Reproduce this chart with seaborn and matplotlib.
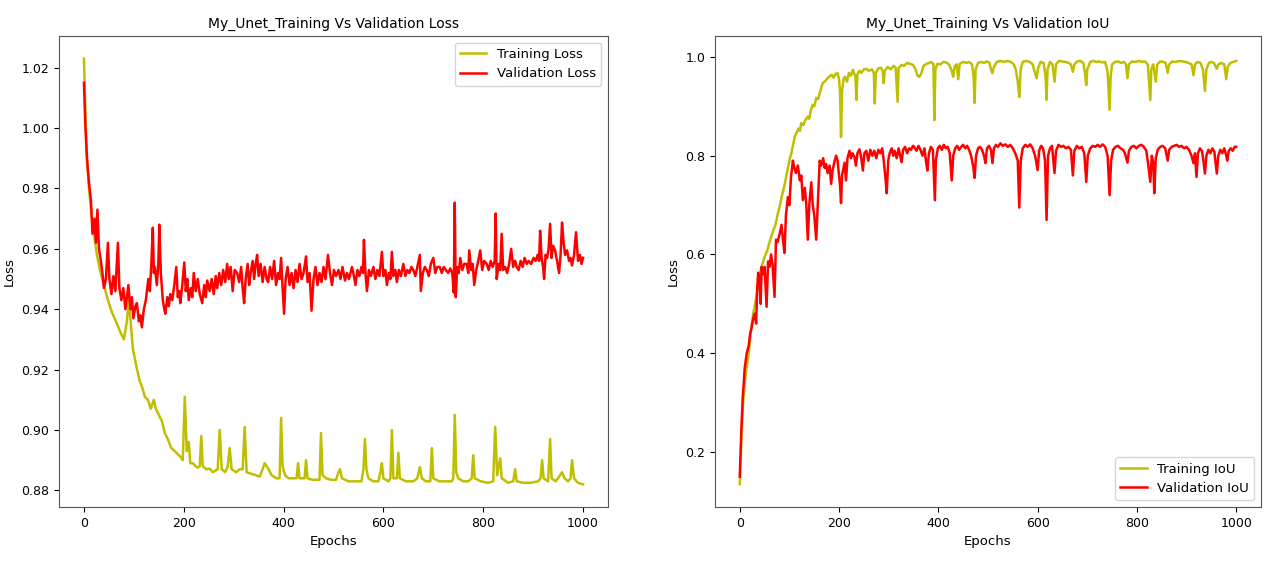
import seaborn as sns
import matplotlib.pyplot as plt
import pandas as pd

# ------------------------------------------------------------
# values (epoch, value)
# ------------------------------------------------------------
train_loss_epochs = [
    0, 3, 6, 10, 15, 20, 26, 32, 40, 48, 56, 64, 74, 80, 86, 90, 94, 98, 105, 112,
    117, 122, 128, 134, 140, 144, 150, 156, 162, 168, 175, 182, 188, 194, 198, 202, 206, 210, 213, 218,
    224, 228, 232, 235, 238, 245, 252, 258, 268, 272, 276, 283, 288, 292, 296, 305, 312, 318, 322, 326,
    335, 345, 352, 358, 362, 366, 370, 376, 386, 392, 395, 398, 403, 410, 420, 426, 429, 432, 442, 445,
    448, 458, 466, 472, 475, 478, 485, 495, 505, 510, 513, 517, 530, 545, 556, 560, 563, 566, 570, 580,
    590, 594, 597, 600, 610, 614, 617, 620, 627, 630, 633, 645, 660, 668, 673, 677, 685, 694, 697, 700,
    712, 725, 737, 740, 743, 746, 750, 760, 770, 777, 780, 783, 795, 810, 820, 824, 828, 834, 837, 850,
    860, 864, 867, 880, 895, 910, 915, 918, 921, 930, 934, 937, 945, 952, 958, 963, 970, 975, 978, 982,
    990, 1000]
train_loss = [
    1.023, 1.005, 0.990, 0.980, 0.972, 0.965, 0.958, 0.953, 0.948, 0.943, 0.939, 0.936, 0.932, 0.930, 0.936, 0.943, 0.935, 0.927, 0.921, 0.916,
    0.914, 0.911, 0.910, 0.907, 0.910, 0.907, 0.905, 0.903, 0.899, 0.897, 0.894, 0.893, 0.892, 0.891, 0.890, 0.911, 0.893, 0.896, 0.889, 0.889,
    0.888, 0.8875, 0.888, 0.898, 0.888, 0.887, 0.8872, 0.886, 0.887, 0.900, 0.887, 0.886, 0.888, 0.894, 0.887, 0.886, 0.887, 0.887, 0.901, 0.886,
    0.8855, 0.885, 0.8845, 0.887, 0.889, 0.888, 0.887, 0.885, 0.884, 0.884, 0.904, 0.888, 0.885, 0.884, 0.884, 0.884, 0.889, 0.884, 0.884, 0.890,
    0.884, 0.8835, 0.8835, 0.8835, 0.899, 0.885, 0.884, 0.8835, 0.8835, 0.886, 0.887, 0.884, 0.883, 0.883, 0.883, 0.887, 0.897, 0.887, 0.884, 0.883,
    0.883, 0.886, 0.889, 0.884, 0.883, 0.884, 0.900, 0.884, 0.884, 0.8925, 0.884, 0.883, 0.883, 0.884, 0.8877, 0.884, 0.883, 0.883, 0.894, 0.884,
    0.883, 0.883, 0.883, 0.884, 0.905, 0.886, 0.884, 0.883, 0.883, 0.884, 0.8916, 0.884, 0.883, 0.8825, 0.883, 0.901, 0.885, 0.8906, 0.884, 0.8825,
    0.883, 0.887, 0.883, 0.8825, 0.8825, 0.883, 0.884, 0.890, 0.884, 0.883, 0.897, 0.884, 0.883, 0.8845, 0.886, 0.884, 0.883, 0.884, 0.890, 0.884,
    0.8825, 0.882]

val_loss_epochs = [
    0, 3, 6, 10, 14, 17, 21, 24, 27, 30, 33, 37, 40, 44, 48, 51, 55, 59, 63, 68,
    71, 75, 79, 83, 86, 89, 93, 96, 99, 103, 106, 110, 113, 116, 120, 124, 129, 132, 135, 138,
    140, 142, 146, 149, 151, 154, 158, 161, 163, 167, 170, 173, 177, 181, 185, 188, 191, 193, 197, 201,
    204, 207, 210, 214, 217, 220, 224, 228, 232, 237, 241, 244, 247, 252, 256, 260, 264, 267, 271, 275,
    279, 283, 287, 290, 294, 298, 302, 307, 311, 315, 318, 321, 324, 328, 331, 334, 338, 341, 344, 347,
    350, 354, 358, 362, 366, 369, 373, 377, 381, 385, 389, 392, 395, 398, 401, 404, 408, 412, 416, 420,
    424, 428, 432, 436, 440, 445, 448, 452, 456, 460, 464, 468, 472, 476, 480, 484, 489, 493, 497, 501,
    505, 510, 514, 518, 523, 527, 531, 537, 541, 544, 548, 552, 556, 559, 561, 564, 567, 571, 575, 580,
    584, 588, 592, 597, 600, 604, 607, 611, 614, 617, 620, 624, 627, 631, 635, 640, 644, 648, 652, 656,
    660, 664, 668, 673, 675, 679, 683, 687, 691, 695, 700, 704, 708, 713, 717, 721, 725, 730, 734, 738,
    741, 743, 745, 748, 751, 754, 758, 762, 767, 770, 772, 776, 779, 782, 786, 790, 794, 798, 802, 807,
    811, 815, 819, 823, 825, 827, 831, 834, 837, 840, 844, 848, 852, 856, 860, 864, 867, 871, 875, 879,
    883, 887, 891, 896, 901, 905, 909, 912, 914, 917, 920, 922, 925, 928, 931, 934, 937, 940, 944, 948,
    952, 955, 958, 961, 964, 968, 972, 975, 978, 982, 986, 990, 994, 997, 1000]
val_loss = [
    1.015, 1.000, 0.990, 0.982, 0.976, 0.965, 0.970, 0.962, 0.973, 0.960, 0.957, 0.952, 0.947, 0.950, 0.962, 0.950, 0.945, 0.951, 0.946, 0.962,
    0.947, 0.943, 0.947, 0.940, 0.944, 0.948, 0.940, 0.944, 0.937, 0.941, 0.942, 0.936, 0.938, 0.934, 0.940, 0.943, 0.950, 0.946, 0.955, 0.967,
    0.952, 0.954, 0.948, 0.955, 0.968, 0.952, 0.943, 0.940, 0.9385, 0.944, 0.941, 0.945, 0.943, 0.948, 0.954, 0.944, 0.946, 0.942, 0.948, 0.9555,
    0.946, 0.950, 0.943, 0.947, 0.944, 0.952, 0.946, 0.950, 0.945, 0.942, 0.948, 0.944, 0.9495, 0.946, 0.950, 0.945, 0.951, 0.947, 0.952, 0.948,
    0.953, 0.949, 0.955, 0.950, 0.954, 0.946, 0.953, 0.952, 0.949, 0.954, 0.947, 0.942, 0.950, 0.955, 0.948, 0.952, 0.956, 0.950, 0.955, 0.958,
    0.951, 0.955, 0.949, 0.954, 0.950, 0.949, 0.954, 0.950, 0.956, 0.948, 0.952, 0.950, 0.957, 0.947, 0.9385, 0.950, 0.954, 0.948, 0.952, 0.947,
    0.953, 0.949, 0.955, 0.950, 0.952, 0.9575, 0.949, 0.952, 0.9395, 0.950, 0.954, 0.948, 0.952, 0.949, 0.954, 0.950, 0.958, 0.952, 0.948, 0.953,
    0.951, 0.953, 0.950, 0.954, 0.9495, 0.952, 0.950, 0.954, 0.951, 0.948, 0.953, 0.951, 0.954, 0.952, 0.963, 0.952, 0.946, 0.953, 0.951, 0.954,
    0.950, 0.953, 0.951, 0.959, 0.951, 0.953, 0.948, 0.952, 0.950, 0.959, 0.951, 0.953, 0.949, 0.953, 0.951, 0.955, 0.951, 0.953, 0.952, 0.954,
    0.953, 0.951, 0.954, 0.958, 0.946, 0.952, 0.954, 0.953, 0.951, 0.955, 0.957, 0.952, 0.954, 0.954, 0.952, 0.954, 0.953, 0.952, 0.9535, 0.952,
    0.9455, 0.9753, 0.944, 0.954, 0.952, 0.957, 0.953, 0.955, 0.955, 0.952, 0.9595, 0.953, 0.955, 0.948, 0.953, 0.956, 0.9595, 0.953, 0.956, 0.955,
    0.953, 0.956, 0.954, 0.956, 0.9717, 0.950, 0.955, 0.953, 0.965, 0.953, 0.954, 0.952, 0.955, 0.960, 0.954, 0.956, 0.954, 0.953, 0.956, 0.954,
    0.957, 0.955, 0.956, 0.955, 0.957, 0.956, 0.958, 0.956, 0.966, 0.957, 0.954, 0.950, 0.958, 0.957, 0.960, 0.9683, 0.957, 0.961, 0.9595, 0.956,
    0.952, 0.958, 0.9687, 0.962, 0.958, 0.9595, 0.956, 0.957, 0.9545, 0.958, 0.9655, 0.956, 0.958, 0.955, 0.957]

train_iou_epochs = [
    0, 3, 6, 10, 14, 18, 22, 27, 31, 36, 40, 44, 50, 56, 60, 64, 68, 72, 76, 81,
    85, 89, 93, 97, 101, 104, 108, 111, 114, 118, 121, 124, 128, 132, 137, 140, 143, 147, 150, 154,
    158, 162, 167, 171, 175, 180, 185, 189, 193, 197, 200, 202, 204, 206, 209, 212, 216, 220, 224, 228,
    231, 233, 235, 237, 241, 245, 250, 255, 260, 266, 270, 272, 274, 279, 285, 288, 290, 292, 298, 304,
    310, 314, 318, 320, 326, 331, 337, 343, 349, 354, 358, 362, 366, 370, 376, 382, 386, 390, 392, 394,
    398, 404, 410, 416, 422, 427, 430, 433, 437, 440, 443, 450, 457, 462, 468, 471, 473, 475, 480, 486,
    492, 498, 503, 506, 509, 512, 518, 525, 532, 540, 546, 552, 556, 560, 563, 566, 570, 577, 584, 590,
    594, 598, 601, 606, 612, 616, 618, 620, 625, 630, 634, 637, 643, 650, 656, 662, 667, 671, 674, 680,
    686, 692, 695, 698, 700, 706, 712, 718, 724, 730, 736, 741, 743, 745, 747, 750, 756, 762, 768, 774,
    778, 781, 784, 790, 797, 804, 810, 816, 822, 825, 827, 829, 833, 838, 841, 847, 853, 858, 862, 865,
    871, 878, 885, 892, 898, 904, 910, 914, 917, 922, 928, 933, 937, 940, 945, 950, 955, 961, 964, 970,
    976, 980, 983, 988, 994, 1000]
train_iou = [
    0.135, 0.22, 0.29, 0.34, 0.372, 0.40, 0.44, 0.48, 0.50, 0.53, 0.56, 0.575, 0.595, 0.61, 0.625, 0.638, 0.65, 0.66, 0.68, 0.700,
    0.72, 0.735, 0.755, 0.775, 0.795, 0.805, 0.825, 0.840, 0.846, 0.855, 0.850, 0.866, 0.862, 0.872, 0.879, 0.875, 0.892, 0.903, 0.900, 0.917,
    0.915, 0.930, 0.947, 0.950, 0.955, 0.960, 0.964, 0.958, 0.966, 0.967, 0.955, 0.930, 0.838, 0.930, 0.955, 0.960, 0.950, 0.968, 0.962, 0.974,
    0.965, 0.960, 0.913, 0.965, 0.972, 0.968, 0.975, 0.976, 0.972, 0.975, 0.968, 0.906, 0.968, 0.977, 0.978, 0.970, 0.947, 0.972, 0.980, 0.975,
    0.982, 0.978, 0.909, 0.978, 0.984, 0.982, 0.988, 0.986, 0.984, 0.975, 0.962, 0.960, 0.968, 0.982, 0.986, 0.988, 0.990, 0.985, 0.872, 0.975,
    0.986, 0.985, 0.990, 0.989, 0.984, 0.972, 0.960, 0.982, 0.985, 0.955, 0.986, 0.990, 0.988, 0.990, 0.985, 0.960, 0.907, 0.975, 0.988, 0.990,
    0.988, 0.991, 0.988, 0.975, 0.967, 0.980, 0.990, 0.992, 0.990, 0.992, 0.990, 0.985, 0.975, 0.950, 0.919, 0.975, 0.990, 0.992, 0.990, 0.985,
    0.970, 0.957, 0.978, 0.990, 0.988, 0.960, 0.913, 0.975, 0.990, 0.985, 0.950, 0.985, 0.992, 0.991, 0.990, 0.988, 0.985, 0.970, 0.985, 0.991,
    0.992, 0.988, 0.970, 0.943, 0.975, 0.990, 0.992, 0.990, 0.991, 0.989, 0.990, 0.970, 0.930, 0.893, 0.960, 0.985, 0.990, 0.991, 0.988, 0.990,
    0.985, 0.957, 0.985, 0.991, 0.990, 0.992, 0.990, 0.991, 0.985, 0.940, 0.913, 0.975, 0.985, 0.950, 0.985, 0.991, 0.990, 0.988, 0.968, 0.985,
    0.991, 0.990, 0.992, 0.991, 0.990, 0.988, 0.985, 0.963, 0.985, 0.990, 0.988, 0.975, 0.931, 0.975, 0.988, 0.990, 0.988, 0.976, 0.985, 0.988,
    0.985, 0.955, 0.980, 0.988, 0.990, 0.992]

val_iou_epochs = [
    0, 3, 6, 10, 14, 18, 21, 24, 27, 30, 33, 35, 37, 40, 42, 44, 47, 50, 54, 57,
    60, 63, 66, 70, 73, 76, 80, 84, 87, 90, 93, 97, 100, 103, 107, 110, 113, 117, 121, 124,
    127, 131, 134, 137, 140, 144, 147, 150, 154, 157, 161, 164, 168, 171, 174, 177, 181, 184, 187, 190,
    194, 197, 200, 202, 204, 206, 209, 211, 214, 217, 221, 224, 227, 231, 234, 237, 241, 244, 248, 251,
    255, 259, 263, 267, 271, 275, 279, 283, 287, 290, 293, 296, 299, 302, 306, 309, 312, 316, 320, 323,
    326, 329, 333, 337, 341, 345, 349, 352, 356, 360, 364, 368, 372, 375, 378, 381, 385, 389, 391, 393,
    395, 399, 403, 407, 411, 415, 419, 423, 427, 430, 434, 438, 442, 446, 450, 454, 458, 462, 466, 470,
    473, 476, 480, 484, 488, 492, 495, 498, 502, 506, 509, 512, 516, 520, 525, 530, 535, 540, 545, 550,
    555, 560, 563, 566, 570, 575, 580, 585, 590, 595, 600, 603, 607, 611, 615, 618, 621, 625, 629, 634,
    637, 642, 647, 652, 657, 662, 667, 671, 674, 679, 684, 689, 694, 698, 701, 706, 711, 716, 721, 726,
    731, 736, 741, 745, 748, 752, 757, 762, 767, 772, 776, 781, 784, 789, 794, 799, 804, 809, 814, 819,
    823, 827, 830, 833, 835, 838, 842, 847, 852, 857, 862, 865, 870, 875, 880, 885, 890, 895, 900, 905,
    910, 914, 917, 920, 923, 927, 931, 934, 937, 940, 944, 948, 952, 956, 961, 964, 968, 972, 976, 980,
    982, 985, 989, 993, 997, 1000]
val_iou = [
    0.150, 0.24, 0.31, 0.37, 0.40, 0.415, 0.440, 0.453, 0.47, 0.48, 0.46, 0.53, 0.563, 0.545, 0.50, 0.575, 0.56, 0.575, 0.494, 0.586,
    0.575, 0.60, 0.58, 0.514, 0.63, 0.625, 0.64, 0.66, 0.63, 0.603, 0.68, 0.716, 0.70, 0.755, 0.79, 0.775, 0.765, 0.78, 0.75, 0.76,
    0.71, 0.735, 0.70, 0.63, 0.70, 0.746, 0.70, 0.68, 0.63, 0.70, 0.79, 0.78, 0.795, 0.775, 0.783, 0.765, 0.78, 0.743, 0.770, 0.785,
    0.80, 0.79, 0.76, 0.740, 0.704, 0.760, 0.775, 0.786, 0.750, 0.795, 0.81, 0.795, 0.805, 0.797, 0.780, 0.805, 0.813, 0.800, 0.77, 0.805,
    0.810, 0.790, 0.812, 0.800, 0.81, 0.795, 0.812, 0.805, 0.815, 0.790, 0.760, 0.724, 0.790, 0.805, 0.815, 0.800, 0.81, 0.795, 0.815, 0.800,
    0.787, 0.812, 0.818, 0.805, 0.815, 0.812, 0.820, 0.817, 0.810, 0.820, 0.812, 0.800, 0.815, 0.790, 0.77, 0.805, 0.818, 0.812, 0.760, 0.710,
    0.790, 0.815, 0.820, 0.812, 0.822, 0.815, 0.818, 0.805, 0.750, 0.800, 0.815, 0.820, 0.812, 0.818, 0.822, 0.815, 0.820, 0.812, 0.800, 0.780,
    0.755, 0.800, 0.815, 0.818, 0.812, 0.800, 0.785, 0.815, 0.820, 0.812, 0.785, 0.815, 0.822, 0.818, 0.825, 0.820, 0.823, 0.818, 0.822, 0.815,
    0.805, 0.790, 0.695, 0.790, 0.815, 0.822, 0.818, 0.823, 0.815, 0.800, 0.771, 0.810, 0.820, 0.815, 0.790, 0.670, 0.800, 0.815, 0.820, 0.765,
    0.810, 0.822, 0.818, 0.820, 0.815, 0.818, 0.812, 0.760, 0.810, 0.820, 0.815, 0.818, 0.805, 0.747, 0.800, 0.815, 0.820, 0.818, 0.822, 0.818,
    0.823, 0.818, 0.800, 0.720, 0.790, 0.812, 0.818, 0.820, 0.815, 0.812, 0.805, 0.786, 0.810, 0.818, 0.820, 0.815, 0.820, 0.822, 0.818, 0.810,
    0.780, 0.747, 0.800, 0.785, 0.724, 0.795, 0.812, 0.818, 0.820, 0.815, 0.790, 0.812, 0.818, 0.820, 0.822, 0.818, 0.820, 0.815, 0.818, 0.812,
    0.800, 0.785, 0.805, 0.757, 0.805, 0.815, 0.810, 0.790, 0.764, 0.800, 0.812, 0.805, 0.815, 0.808, 0.764, 0.800, 0.812, 0.805, 0.815, 0.800,
    0.790, 0.810, 0.815, 0.810, 0.818, 0.818]

# ------------------------------------------------------------
# Figure
# ------------------------------------------------------------
plt.rcParams["font.family"] = ["DejaVu Sans"]
fig = plt.figure(figsize=(12.69, 5.65), dpi=100)
ax1 = fig.add_axes([0.0465, 0.1027, 0.4326, 0.8336])
ax2 = fig.add_axes([0.5634, 0.1027, 0.4303, 0.8336])

sns.lineplot(x=train_loss_epochs, y=train_loss, color="y", lw=1.8,
             label="Training Loss", estimator=None, ax=ax1)
sns.lineplot(x=val_loss_epochs, y=val_loss, color="r", lw=1.8,
             label="Validation Loss", estimator=None, ax=ax1)
ax1.set_title("My_Unet_Training Vs Validation Loss", fontsize=10)
ax1.set_xlabel("Epochs", fontsize=9.5)
ax1.set_ylabel("Loss", fontsize=9.5)
ax1.set_xlim(-50, 1050)
ax1.set_ylim(0.8745, 1.0305)
ax1.legend(loc="upper right", fontsize=9.5)

sns.lineplot(x=train_iou_epochs, y=train_iou, color="y", lw=1.8,
             label="Training IoU", estimator=None, ax=ax2)
sns.lineplot(x=val_iou_epochs, y=val_iou, color="r", lw=1.8,
             label="Validation IoU", estimator=None, ax=ax2)
ax2.set_title("My_Unet_Training Vs Validation IoU", fontsize=10)
ax2.set_xlabel("Epochs", fontsize=9.5)
ax2.set_ylabel("Loss", fontsize=9.5)
ax2.set_xlim(-50, 1050)
ax2.set_ylim(0.0886, 1.0425)
ax2.legend(loc="lower right", fontsize=9.5)

for ax in (ax1, ax2):
    ax.tick_params(labelsize=9)
    for sp in ax.spines.values():
        sp.set_color("#555555")

fig.savefig("out.png", dpi=100)
